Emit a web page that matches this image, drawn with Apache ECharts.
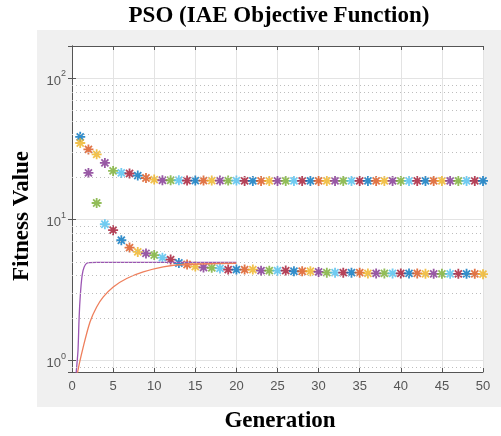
<!DOCTYPE html>
<html lang="en">
<head>
<meta charset="UTF-8">
<title>PSO (IAE Objective Function)</title>
<script src="https://cdn.jsdelivr.net/npm/echarts@6/dist/echarts.min.js"></script>
<style>
    body { margin: 0; padding: 0; background: #fff; }
    #chart { width: 501px; height: 436px; }
</style>
</head>
<body>
<div id="chart"></div>
<script>
// generations 1..50
var generations = [1, 2, 3, 4, 5, 6, 7, 8, 9, 10, 11, 12, 13, 14, 15, 16, 17, 18, 19, 20,
    21, 22, 23, 24, 25, 26, 27, 28, 29, 30, 31, 32, 33, 34, 35, 36, 37, 38, 39, 40,
    41, 42, 43, 44, 45, 46, 47, 48, 49, 50];

// upper run of best fitness
var upperFitness = [38.6, 31.4, 29.0, 25.2, 22.1, 21.4, 21.2, 20.5, 19.7, 19.2,
    19.0, 19.0, 19.0, 18.9, 18.9, 18.9, 18.9, 18.9, 18.9, 18.9,
    18.8, 18.8, 18.8, 18.8, 18.8, 18.8, 18.8, 18.8, 18.8, 18.8,
    18.8, 18.8, 18.8, 18.8, 18.8, 18.8, 18.8, 18.8, 18.8, 18.8,
    18.8, 18.8, 18.8, 18.8, 18.8, 18.8, 18.8, 18.8, 18.8, 18.8];

// lower run of best fitness
var lowerFitness = [34.9, 21.4, 13.1, 9.26, 8.4, 7.13, 6.33, 5.89, 5.75, 5.6,
    5.37, 5.2, 4.92, 4.8, 4.64, 4.57, 4.55, 4.5, 4.42, 4.42,
    4.42, 4.42, 4.34, 4.34, 4.34, 4.35, 4.3, 4.3, 4.3, 4.25,
    4.2, 4.2, 4.2, 4.2, 4.2, 4.15, 4.15, 4.15, 4.15, 4.15,
    4.15, 4.15, 4.12, 4.12, 4.12, 4.12, 4.12, 4.12, 4.12, 4.1];

// step responses, [time, output]
var fastResponse = [[0.45, 0.7], [0.52, 0.83], [0.73, 1.18], [0.85, 1.9], [0.97, 2.66],
    [1.16, 3.7], [1.34, 4.35], [1.64, 4.8], [2.0, 4.95], [3.0, 4.97], [20, 4.97]];
var slowResponse = [[0.62, 0.7], [0.69, 0.83], [1.37, 1.25], [2.19, 1.88], [3.0, 2.4],
    [3.81, 2.83], [5.02, 3.33], [6.65, 3.82], [8.67, 4.25], [11.1, 4.61],
    [13.5, 4.8], [20, 4.9]];

var minorGrid = [0.9, 2, 3, 4, 5, 6, 7, 8, 9, 20, 30, 40, 50, 60, 70, 80, 90];

var palette = ['#0072BD', '#D95319', '#EDB120', '#7E2F8E', '#77AC30', '#4DBEEE', '#A2142F'];

var star = 'path://M-1.8,-10L1.8,-10L1.8,10L-1.8,10Z' +
    'M-10,-1.8L10,-1.8L10,1.8L-10,1.8Z' +
    'M5.8,-8.3L8.3,-5.8L-5.8,8.3L-8.3,5.8Z' +
    'M-8.3,-5.8L-5.8,-8.3L8.3,5.8L5.8,8.3Z';

var chart = echarts.init(document.getElementById('chart'));

function pairs(ys) {
    return generations.map(function (g, i) { return [g, ys[i]]; });
}

function powLabel(v) {
    var e = Math.log10(v);
    if (Math.abs(e - Math.round(e)) > 1e-6) return '';
    return '{b|10}{s|' + Math.round(e) + '}';
}

var tickFont = { color: '#555', fontFamily: 'Liberation Sans', fontSize: 13 };

chart.setOption({
    animation: false,
    graphic: [
        { type: 'rect', z: -10, shape: { x: 37, y: 30, width: 464, height: 377 }, style: { fill: '#f0f0f0' } },
        { type: 'text', x: 279, y: 16, style: { text: 'PSO (IAE Objective Function)', textAlign: 'center', textVerticalAlign: 'middle',
            font: 'bold 23px "Liberation Serif"', fill: '#000' } },
        { type: 'text', x: 280, y: 421, style: { text: 'Generation', textAlign: 'center', textVerticalAlign: 'middle',
            font: 'bold 23px "Liberation Serif"', fill: '#000' } },
        { type: 'text', x: 22, y: 216, rotation: Math.PI / 2, style: { text: 'Fitness Value', textAlign: 'center', textVerticalAlign: 'middle',
            font: 'bold 23px "Liberation Serif"', fill: '#000' } }
    ],
    grid: { left: 72, right: 18, top: 46, bottom: 64, show: true, backgroundColor: '#fff', borderWidth: 0 },
    xAxis: [{
        type: 'value', min: 0, max: 50, interval: 5, position: 'bottom',
        axisLine: { lineStyle: { color: '#555' } },
        axisTick: { inside: true, length: 4, lineStyle: { color: '#555' } },
        axisLabel: Object.assign({ margin: 8 }, tickFont),
        splitLine: { lineStyle: { color: '#e3e3e3' } }
    }, {
        type: 'value', min: 0, max: 50, interval: 5, position: 'top',
        axisLine: { lineStyle: { color: '#555' } },
        axisTick: { inside: true, length: 4, lineStyle: { color: '#555' } },
        axisLabel: { show: false }, splitLine: { show: false }
    }],
    yAxis: [{
        type: 'log', logBase: 10, min: 0.83, max: 170, position: 'left',
        axisLine: { show: true, lineStyle: { color: '#555' } },
        axisTick: { inside: true, length: 4, lineStyle: { color: '#555' } },
        axisLabel: Object.assign({
            margin: 6, formatter: powLabel,
            rich: {
                b: { color: '#555', fontFamily: 'Liberation Sans', fontSize: 13, lineHeight: 18, verticalAlign: 'bottom' },
                s: { color: '#555', fontFamily: 'Liberation Sans', fontSize: 9, lineHeight: 18, verticalAlign: 'top' }
            }
        }, tickFont),
        splitLine: { lineStyle: { color: '#e3e3e3' } }
    }, {
        type: 'log', logBase: 10, min: 0.83, max: 170, position: 'right',
        axisLine: { show: true, lineStyle: { color: '#555' } },
        axisTick: { inside: true, length: 4, lineStyle: { color: '#555' } },
        axisLabel: { show: false }, splitLine: { show: false }
    }],
    series: [{
        type: 'line', data: [], z: 1, silent: true,
        markLine: {
            silent: true, symbol: 'none', label: { show: false },
            lineStyle: { type: [1, 3], color: '#bdbdbd', width: 1 },
            data: minorGrid.map(function (v) { return { yAxis: v }; })
        }
    }, {
        type: 'scatter', data: pairs(upperFitness), symbol: star, symbolSize: 10, z: 3,
        itemStyle: { color: function (p) { return palette[p.dataIndex % 7]; } }
    }, {
        type: 'scatter', data: pairs(lowerFitness), symbol: star, symbolSize: 10, z: 3,
        itemStyle: { color: function (p) { return palette[(p.dataIndex + 2) % 7]; } }
    }, {
        type: 'line', data: fastResponse, showSymbol: false, smooth: 0.25, z: 4,
        lineStyle: { color: '#9b55b3', width: 1.3 }
    }, {
        type: 'line', data: slowResponse, showSymbol: false, smooth: 0.3, z: 4,
        lineStyle: { color: '#ee7f5c', width: 1.3 }
    }]
});
</script>
</body>
</html>
